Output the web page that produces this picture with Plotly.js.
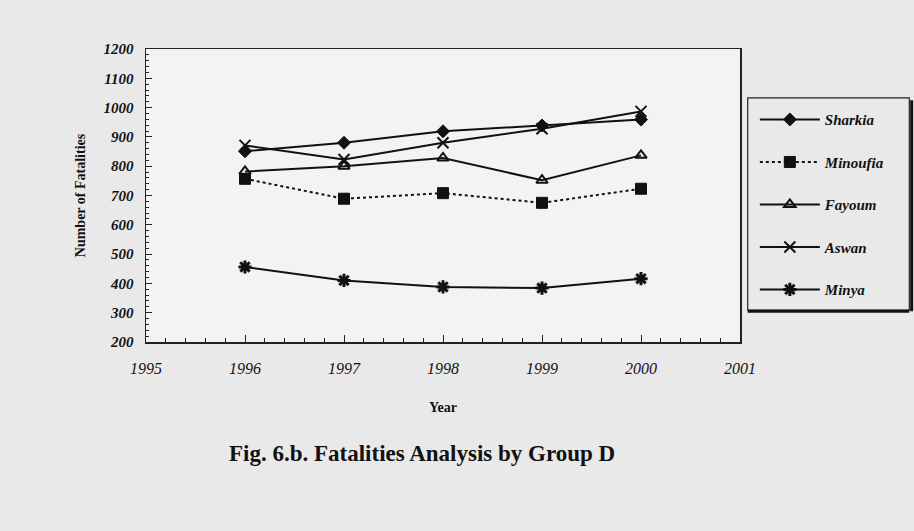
<!DOCTYPE html>
<html>
<head>
<meta charset="utf-8">
<script src="https://cdn.plot.ly/plotly-3.0.1.min.js"></script>
<style>html,body{margin:0;padding:0;background:#ececec;}#chart{width:914px;height:531px;}</style>
</head>
<body>
<div id="chart"></div>
<script>
const years = [1996, 1997, 1998, 1999, 2000];
const sharkia = [851, 880, 919, 939, 959];
const minoufia = [757, 689, 708, 675, 723];
const fayoum = [782, 800, 828, 752, 837];
const aswan = [871, 823, 880, 928, 987];
const minya = [456, 410, 388, 384, 416];
const xTicks = [1995, 1996, 1997, 1998, 1999, 2000, 2001];
const yTicks = [200, 300, 400, 500, 600, 700, 800, 900, 1000, 1100, 1200];

const serif = 'Liberation Serif, Times New Roman, serif';

function tr(name, y, sym, size, dash, lineColor, msize) {
  return {
    x: years, y: y, name: name, type: 'scatter', mode: 'lines+markers',
    legendgroup: name,
    line: {color: '#111', width: 2, dash: dash},
    marker: {symbol: sym, size: msize, color: lineColor, line: {color: '#111', width: size}}
  };
}

const data = [
  tr('Sharkia', sharkia, 'diamond', 1, 'solid', '#111', 10),
  tr('Minoufia', minoufia, 'square', 1, 'dot', '#111', 11),
  tr('Fayoum', fayoum, 'triangle-up-open', 2, 'solid', '#111', 10),
  tr('Aswan', aswan, 'x-thin-open', 2, 'solid', '#111', 11),
  tr('Minya', minya, 'asterisk-open', 3, 'solid', '#111', 11)
];

const layout = {
  width: 914, height: 531,
  margin: {l: 146, r: 174, t: 49, b: 189},
  paper_bgcolor: '#e9e9e9',
  plot_bgcolor: '#f3f3f3',
  font: {family: serif, color: '#111'},
  showlegend: true,
  legend: {
    x: 1.025, y: 0.815, xanchor: 'left', yanchor: 'top',
    bgcolor: 'rgba(0,0,0,0)', borderwidth: 0,
    traceorder: 'grouped', tracegroupgap: 20, itemwidth: 60,
    font: {family: serif, size: 15, style: 'italic', weight: 'bold', color: '#111'}
  },
  xaxis: {
    range: [1995, 2001], tickvals: xTicks, ticktext: xTicks.map(String),
    ticks: 'inside', ticklen: 7, tickwidth: 1, tickcolor: '#222',
    minor: {dtick: 0.2, ticks: 'inside', ticklen: 4, tickcolor: '#222'},
    showline: true, linecolor: '#222', linewidth: 1.5, mirror: true,
    showgrid: false, zeroline: false,
    ticklabelstandoff: 11,
    tickfont: {family: serif, size: 16, style: 'italic', color: '#111'},
    title: {text: 'Year', standoff: 26, font: {family: serif, size: 14, weight: 'bold', color: '#111'}}
  },
  yaxis: {
    range: [200, 1200], tickvals: yTicks,
    ticks: 'inside', ticklen: 6, tickwidth: 1, tickcolor: '#222',
    minor: {dtick: 20, ticks: 'inside', ticklen: 3, tickcolor: '#222'},
    showline: true, linecolor: '#222', linewidth: 1.5, mirror: true,
    showgrid: false, zeroline: false,
    ticklabelstandoff: 8,
    tickfont: {family: serif, size: 15, style: 'italic', weight: 'bold', color: '#111'},
    title: {text: 'Number of Fatalities', standoff: 14, font: {family: serif, size: 14, weight: 'bold', color: '#111'}}
  },
  shapes: [
    {type: 'rect', xref: 'paper', yref: 'paper', x0: 1.013, x1: 1.285, y0: 0.109, y1: 0.833,
     line: {color: '#222', width: 1.2}},
    {type: 'line', xref: 'paper', yref: 'paper', x0: 1.013, x1: 1.285, y0: 0.105, y1: 0.105,
     line: {color: '#111', width: 3}},
    {type: 'line', xref: 'paper', yref: 'paper', x0: 1.289, x1: 1.289, y0: 0.105, y1: 0.825,
     line: {color: '#111', width: 3}}
  ],
  annotations: [
    {text: 'Fig. 6.b. Fatalities Analysis by Group D', xref: 'paper', yref: 'paper',
     x: 0.465, y: -0.38, xanchor: 'center', yanchor: 'middle', showarrow: false,
     font: {family: serif, size: 23, weight: 'bold', color: '#111'}}
  ]
};

Plotly.newPlot('chart', data, layout, {displayModeBar: false, staticPlot: true});
</script>
</body>
</html>
